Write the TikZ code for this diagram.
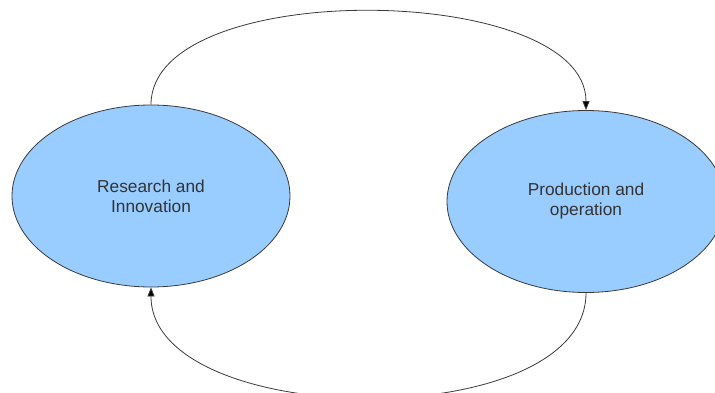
\documentclass[tikz,border=0pt]{standalone}
\usepackage{fontspec}
\setmainfont{Liberation Sans}
\usetikzlibrary{shapes.geometric,arrows.meta}
\definecolor{fillblue}{HTML}{99CCFF}
\definecolor{edgegray}{HTML}{3A3A3A}
\definecolor{textgray}{HTML}{333333}
\begin{document}
\begin{tikzpicture}[x=1pt,y=1pt,
  blob/.style={ellipse, draw=edgegray, line width=0.8pt, fill=fillblue,
    minimum width=278pt, minimum height=182pt, inner sep=0pt,
    align=center, text=textgray, font=\fontsize{17.3}{20}\selectfont},
  link/.style={draw=edgegray, line width=0.8pt,
    -{Triangle[length=9pt,width=7pt,fill=black]}}]
\clip (0,0) rectangle (715,392);
\useasboundingbox (0,0) rectangle (715,392);
\node[blob] (r) at (151,196) {Research and\\Innovation};
\node[blob] (p) at (586,190.5) {Production and\\operation};
\draw[link] (r.north) .. controls +(0,128) and +(0,128) .. (p.north);
\draw[link] (p.south) .. controls +(0,-143) and +(0,-143) .. (r.south);
\end{tikzpicture}
\end{document}
